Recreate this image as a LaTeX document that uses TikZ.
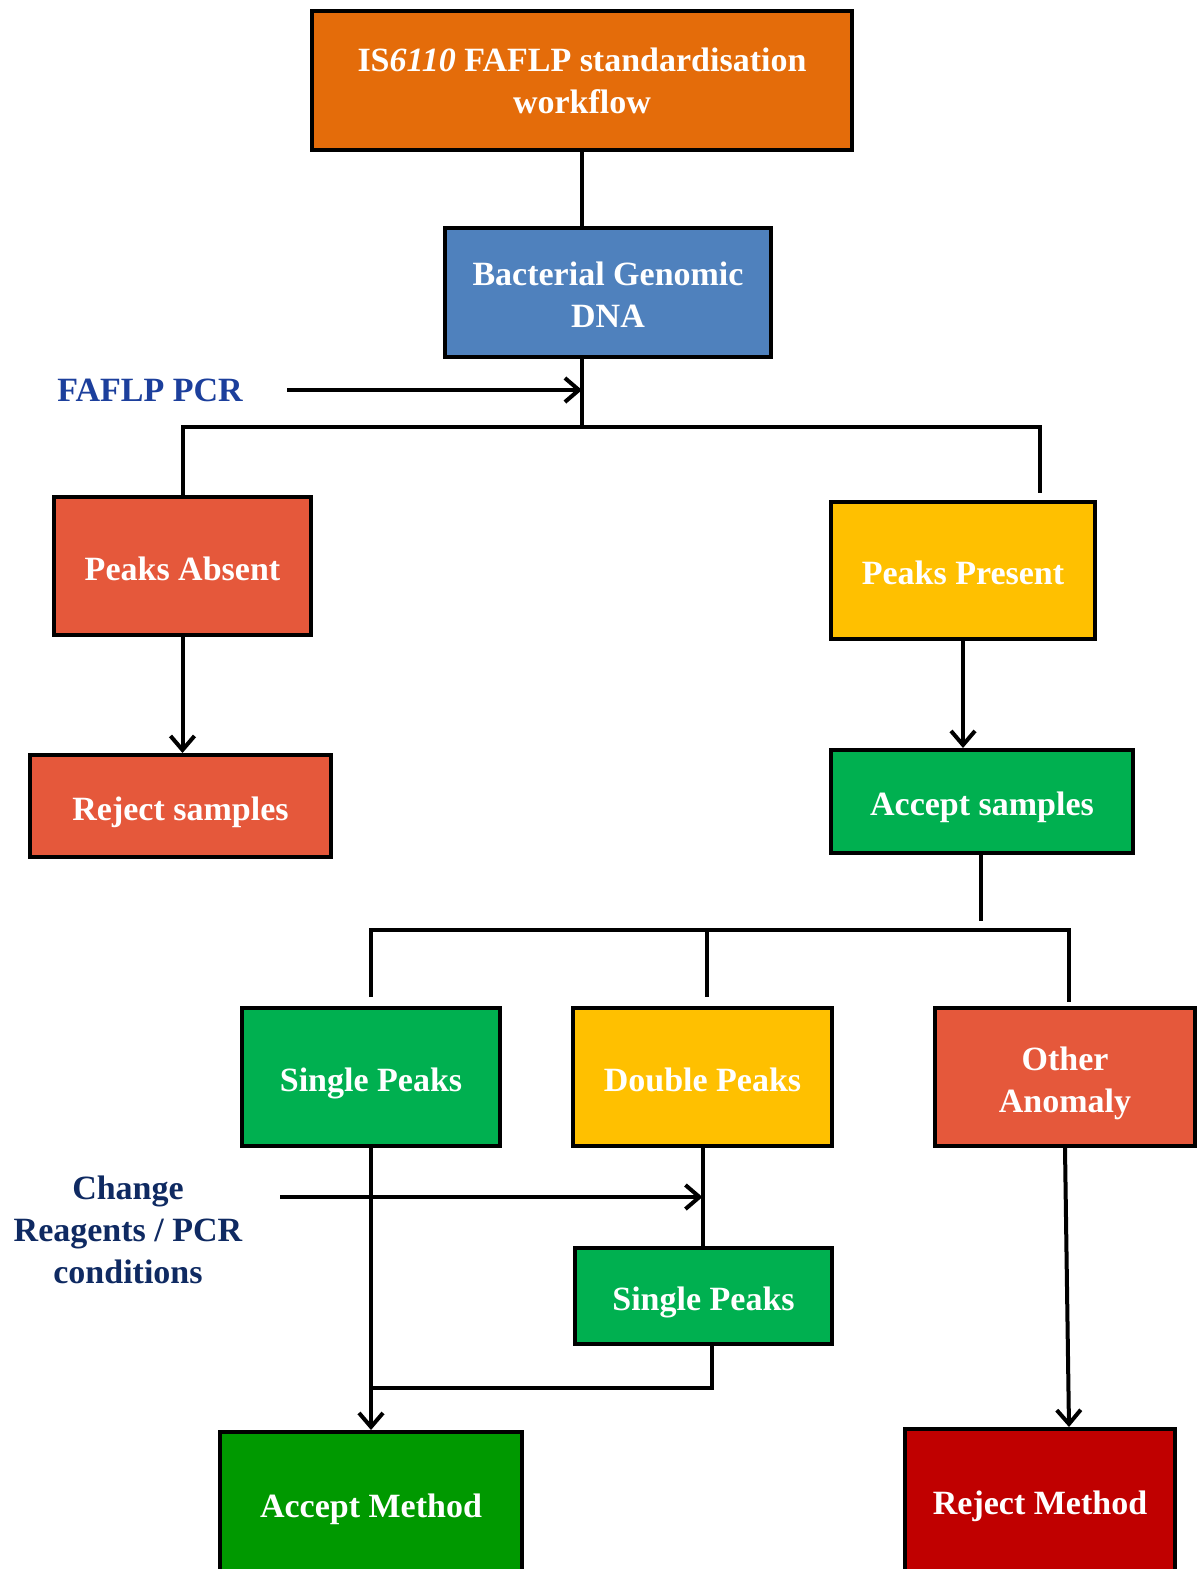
\documentclass[tikz,border=0pt]{standalone}
\usepackage{fontspec}
\setmainfont{Liberation Serif}
\usetikzlibrary{arrows.meta}
\definecolor{cOrange}{HTML}{E46C0A}
\definecolor{cBlue}{HTML}{4F81BD}
\definecolor{cRed}{HTML}{E5583B}
\definecolor{cYellow}{HTML}{FFC000}
\definecolor{cGreen}{HTML}{00B050}
\definecolor{cDarkGreen}{HTML}{009900}
\definecolor{cDarkRed}{HTML}{C00000}
\definecolor{cPcr}{HTML}{1C3F9C}
\definecolor{cNavy}{HTML}{0F2A62}
\tikzset{
  box/.style={draw=black, line width=2pt, rectangle, align=center, text=white,
    font=\fontsize{17}{21}\selectfont\bfseries, inner sep=2pt},
  oneline/.style={text height=14pt, text depth=0pt},
  wire/.style={line width=2pt, draw=black},
  arr/.style={wire, -{Straight Barb[length=7pt,width=12pt]}},
  note/.style={align=center, font=\fontsize{17}{21}\selectfont\bfseries},
}
\begin{document}
\begin{tikzpicture}[x=0.5pt, y=-0.5pt]
  \useasboundingbox (0,0) rectangle (1198,1569);
  \clip (0,0) rectangle (1198,1569);
  \fill[white] (0,0) rectangle (1198,1569);

  % boxes
  \node[box, fill=cOrange, minimum width=270pt, minimum height=69.5pt] (top) at (582,80.5)
    {IS\textit{6110} FAFLP standardisation\\workflow};
  \node[box, fill=cBlue, minimum width=163pt, minimum height=64.5pt, text height=35.5pt] (dna) at (608,292.5)
    {Bacterial Genomic\\DNA};
  \node[box, oneline, fill=cRed, minimum width=128.5pt, minimum height=69pt] (absent) at (182.5,566)
    {Peaks Absent};
  \node[box, oneline, fill=cRed, minimum width=150.5pt, minimum height=51pt] (rejS) at (180.5,806)
    {Reject samples};
  \node[box, oneline, fill=cYellow, minimum width=132pt, minimum height=68.5pt] (present) at (963,570.5)
    {Peaks Present};
  \node[box, oneline, fill=cGreen, minimum width=151pt, minimum height=51.5pt] (accS) at (982,801.5)
    {Accept samples};
  \node[box, oneline, fill=cGreen, minimum width=129pt, minimum height=69pt] (single1) at (371,1077)
    {Single Peaks};
  \node[box, oneline, fill=cYellow, minimum width=129.5pt, minimum height=69pt] (double) at (702.5,1077)
    {Double Peaks};
  \node[box, fill=cRed, minimum width=130pt, minimum height=69pt, text height=39.5pt] (other) at (1065,1077)
    {Other\\Anomaly};
  \node[box, oneline, fill=cGreen, minimum width=128.5pt, minimum height=48pt] (single2) at (703.5,1296)
    {Single Peaks};
  \node[box, oneline, fill=cDarkGreen, minimum width=151pt, minimum height=71.5pt] (accM) at (371,1503.5)
    {Accept Method};
  \node[box, oneline, fill=cDarkRed, minimum width=135pt, minimum height=71pt] (rejM) at (1040,1500)
    {Reject Method};

  % side labels
  \node[note, text=cPcr] (pcr) at (150,390) {FAFLP PCR};
  \node[note, text=cNavy] (chg) at (128,1230) {Change\\Reagents / PCR\\conditions};

  % junction points
  \coordinate (hub1) at (582,427);
  \coordinate (r1) at (1040,493);
  \coordinate (r2) at (981,921);
  \coordinate (hub2) at (707,930);
  \coordinate (l1) at (371,997);
  \coordinate (l2) at (707,997);
  \coordinate (l3) at (1069,1002);
  \coordinate (p0) at (287,390);
  \coordinate (c0) at (280,1197);
  \coordinate (j) at (371,1388);

  % connectors
  \draw[wire] (top.south) -- (top.south |- dna.north);
  \draw[wire] (top.south |- dna.south) -- (hub1);
  \draw[wire] (absent.north) |- (hub1) -| (r1);
  \draw[arr] (p0) -- (p0 -| hub1);
  \draw[arr] (absent.south) -- (absent.south |- rejS.north);
  \draw[arr] (present.south) -- (present.south |- accS.north);
  \draw[wire] (accS.south -| r2) -- (r2);
  \draw[wire] (l1) |- (hub2) -| (l3);
  \draw[wire] (hub2) -- (l2);
  \draw[wire] (double.south) -- (double.south |- single2.north);
  \draw[arr] (c0) -- (c0 -| double.south);
  \draw[arr] (single1.south) -- (single1.south |- accM.north);
  \draw[wire] ([xshift=4.25pt]single2.south) |- (j);
  \draw[arr] (other.south) -- ([xshift=14.5pt]rejM.north);
\end{tikzpicture}
\end{document}
